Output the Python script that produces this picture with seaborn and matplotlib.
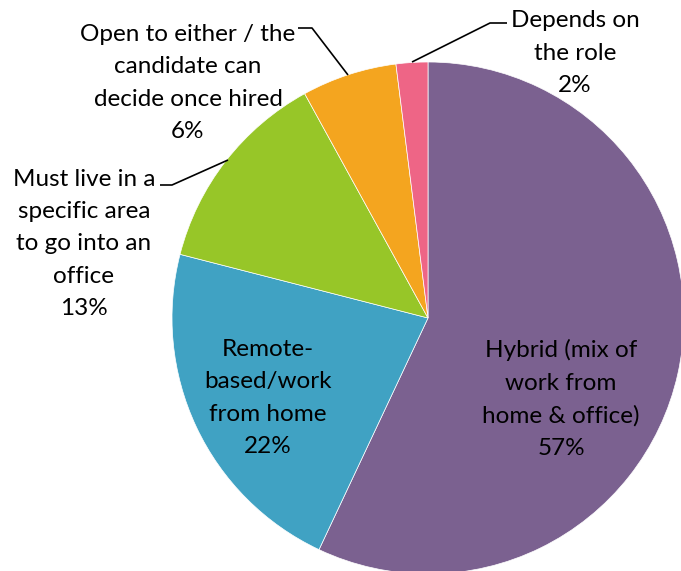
import matplotlib
matplotlib.use("Agg")
import matplotlib.pyplot as plt
import seaborn as sns

categories = [
    "Hybrid (mix of\nwork from\nhome & office)",
    "Remote-\nbased/work\nfrom home",
    "Must live in a\nspecific area\nto go into an\noffice",
    "Open to either / the\ncandidate can\ndecide once hired",
    "Depends on\nthe role",
]
values = [57, 22, 13, 6, 2]
colors = ["#7B6190", "#40A2C3", "#97C628", "#F4A51F", "#EE6586"]

sns.set_theme(style="white")
plt.rcParams["font.family"] = ["Lato", "DejaVu Sans"]

W, H, DPI = 681, 571, 100
fig = plt.figure(figsize=(W / DPI, H / DPI), dpi=DPI)
ax = fig.add_axes([0, 0, 1, 1])

cx, cy, R = 428, 318, 256  # pixel centre and radius


def px(x, y):
    return ((x - cx) / R, (cy - y) / R)


ax.pie(values, colors=colors, startangle=90, counterclock=False, radius=1,
       wedgeprops=dict(edgecolor="white", linewidth=0.5))
ax.set_xlim(-cx / R, (W - cx) / R)
ax.set_ylim(-(H - cy) / R, cy / R)
ax.set_aspect("auto")
ax.axis("off")

label_pos = [(561, 399), (268, 398), (84, 244), (188, 83), (575, 53)]
fs = 17.5
for cat, v, (x, y) in zip(categories, values, label_pos):
    ax.text(*px(x, y), f"{cat}\n{v}%", ha="center", va="center",
            fontsize=fs, linespacing=1.66, color="black")

leaders = [
    [(412, 62), (490, 23), (507, 23)],
    [(348, 75), (312, 28), (298, 28)],
    [(228, 160), (172, 185), (160, 185)],
]
for pts in leaders:
    xs, ys = zip(*[px(a, b) for a, b in pts])
    ax.plot(xs, ys, color="black", linewidth=1.2, solid_capstyle="butt")

fig.savefig("out.png", dpi=DPI, facecolor="white")
